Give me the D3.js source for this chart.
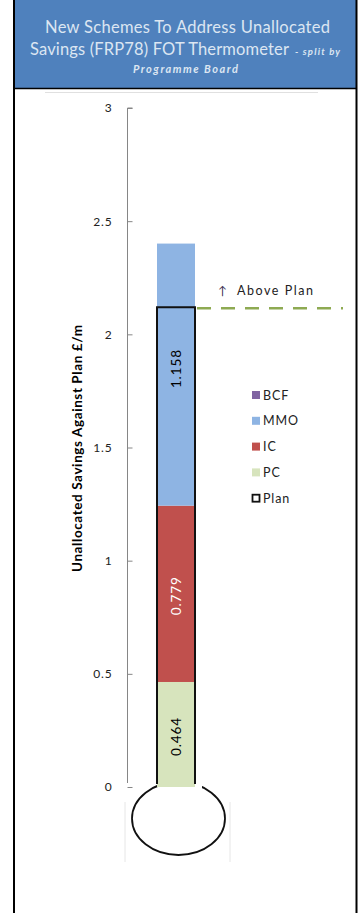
<!DOCTYPE html>
<html>
<head>
<meta charset="utf-8">
<script src="https://cdn.jsdelivr.net/npm/d3@7"></script>
<style>
  html, body { margin: 0; padding: 0; background: #fff; }
  svg { display: block; }
</style>
</head>
<body>
<svg id="chart" width="358" height="913"></svg>
<script>
// Savings split by programme board, stacked bottom-up
const categories = ["PC", "IC", "MMO", "BCF"];
const values = [0.464, 0.779, 1.158, 0];
const colors = ["#D7E4BD", "#C0504D", "#8EB4E3", "#8064A2"];
const labelColors = ["#000", "#fff", "#000", "#000"];
const planValue = 2.12;
const yTicks = [0, 0.5, 1, 1.5, 2, 2.5, 3];
const legendOrder = ["BCF", "MMO", "IC", "PC", "Plan"];
const titleLines = ["New Schemes To Address Unallocated", "Savings (FRP78) FOT Thermometer"];
const titleSuffix = "- split by";
const subTitle = "Programme Board";
const yTitle = "Unallocated Savings Against Plan £/m";
const planArrow = "↑";
const planNote = "Above Plan";

const svg = d3.select("#chart");
const font = "Lato, 'Open Sans', sans-serif";

// frame and header
svg.append("rect").attr("x", 15).attr("y", 0).attr("width", 341).attr("height", 88).attr("fill", "#4F81BD");
svg.append("line").attr("x1", 14).attr("x2", 357).attr("y1", 88.5).attr("y2", 88.5).attr("stroke", "#000").attr("stroke-width", 1.5);
svg.append("line").attr("x1", 14).attr("x2", 14).attr("y1", 0).attr("y2", 913).attr("stroke", "#000").attr("stroke-width", 2);
svg.append("line").attr("x1", 356.5).attr("x2", 356.5).attr("y1", 0).attr("y2", 913).attr("stroke", "#000").attr("stroke-width", 2);
svg.append("line").attr("x1", 45).attr("x2", 318).attr("y1", 92.5).attr("y2", 92.5).attr("stroke", "#e0e0e0").attr("stroke-width", 1);

const tc = "#DCE6F2";
svg.append("text").attr("x", 45).attr("y", 33)
  .attr("font-family", font).attr("font-size", 16.5).attr("fill", tc)
  .attr("textLength", 285).attr("lengthAdjust", "spacing").text(titleLines[0]);
svg.append("text").attr("x", 30).attr("y", 55)
  .attr("font-family", font).attr("font-size", 16.5).attr("fill", tc)
  .attr("textLength", 259).attr("lengthAdjust", "spacing").text(titleLines[1]);
svg.append("text").attr("x", 295).attr("y", 55)
  .attr("font-family", font).attr("font-size", 9.5).attr("font-style", "italic").attr("font-weight", "bold")
  .attr("fill", tc).attr("textLength", 45).attr("lengthAdjust", "spacing").text(titleSuffix);
svg.append("text").attr("x", 133).attr("y", 73)
  .attr("font-family", font).attr("font-size", 11).attr("font-style", "italic").attr("font-weight", "bold")
  .attr("fill", tc).attr("textLength", 105).attr("lengthAdjust", "spacing").text(subTitle);

// scales
const y = d3.scaleLinear().domain([0, 3]).range([787, 108]);
const barX = 157, barW = 38;

// axis with inward ticks
const axis = svg.append("g").attr("transform", "translate(127.5,0)")
  .call(d3.axisRight(y).tickValues(yTicks).tickSize(5).tickFormat(d3.format("")));
axis.select(".domain").attr("stroke", "#868686").attr("d", `M5,${y(3)}H0V${y(0) - 4}`);
axis.selectAll(".tick line").attr("stroke", "#868686");
axis.selectAll(".tick text").attr("x", -15).attr("text-anchor", "end")
  .attr("font-family", font).attr("font-size", 12).attr("letter-spacing", 0.8).attr("fill", "#222");

svg.append("text").attr("transform", `translate(82,572) rotate(-90)`)
  .attr("font-family", font).attr("font-size", 13.5)
  .attr("font-weight", "bold").attr("fill", "#000")
  .attr("textLength", 247).attr("lengthAdjust", "spacing").text(yTitle);

// bulb
const bulb = { cx: 178.5, cy: 818.5, rx: 46.5, ry: 36.5 };
svg.append("line").attr("x1", 125).attr("x2", 125).attr("y1", 802).attr("y2", 862).attr("stroke", "#e6e6e6");
svg.append("line").attr("x1", 230).attr("x2", 230).attr("y1", 802).attr("y2", 862).attr("stroke", "#e6e6e6");
svg.append("ellipse").attr("cx", bulb.cx).attr("cy", bulb.cy).attr("rx", bulb.rx).attr("ry", bulb.ry)
  .attr("fill", "#fff").attr("stroke", "#111").attr("stroke-width", 1.8);
svg.append("rect").attr("x", barX + 1).attr("y", 770).attr("width", 44).attr("height", 19).attr("fill", "#fff");

// stacked segments
let acc = 0;
const stack = values.map((v, i) => { const s = { key: categories[i], y0: acc, y1: acc + v, v, i }; acc += v; return s; });
const shown = stack.filter(d => d.v > 0);
svg.selectAll("rect.seg").data(shown).join("rect").attr("class", "seg")
  .attr("x", barX).attr("width", barW)
  .attr("y", d => y(d.y1)).attr("height", d => y(d.y0) - y(d.y1))
  .attr("fill", d => colors[d.i]);
svg.selectAll("text.val").data(shown).join("text").attr("class", "val")
  .attr("transform", d => `translate(${barX + barW / 2 + 5},${(y(d.y0) + y(d.y1)) / 2 + (d.key === "MMO" ? -6 : 2)}) rotate(-90)`)
  .attr("text-anchor", "middle").attr("font-family", font).attr("font-size", 13.5)
  .attr("letter-spacing", 0.9)
  .attr("fill", d => labelColors[d.i]).text(d => d3.format(".3f")(d.v));

// plan outline
svg.append("path").attr("d", `M${barX},${y(0) - 3}V${y(planValue)}H${barX + barW}V${y(0) - 3}`)
  .attr("fill", "none").attr("stroke", "#111").attr("stroke-width", 2);

// plan marker
svg.append("line").attr("x1", 197).attr("x2", 343).attr("y1", y(planValue) + 1).attr("y2", y(planValue) + 1)
  .attr("stroke", "#8EAA52").attr("stroke-width", 2.5).attr("stroke-dasharray", "14,10");
svg.append("text").attr("x", 218).attr("y", 295).attr("font-family", font).attr("font-size", 12)
  .attr("fill", "#403152").text(planArrow);
svg.append("text").attr("x", 237).attr("y", 295).attr("font-family", font).attr("font-size", 12.5)
  .attr("fill", "#222").attr("textLength", 76).attr("lengthAdjust", "spacing").text(planNote);

// legend
const lg = svg.append("g");
legendOrder.forEach((k, i) => {
  const yy = 395 + i * 25.8;
  const ci = categories.indexOf(k);
  if (k === "Plan") {
    lg.append("rect").attr("x", 252.5).attr("y", yy - 3.5).attr("width", 7).attr("height", 7)
      .attr("fill", "#fff").attr("stroke", "#111").attr("stroke-width", 1.8);
  } else {
    lg.append("rect").attr("x", 252).attr("y", yy - 4).attr("width", 8).attr("height", 8).attr("fill", colors[ci]);
  }
  lg.append("text").attr("x", 263).attr("y", yy + 4.5).attr("font-family", font).attr("font-size", 12.5)
    .attr("letter-spacing", 0.9).attr("fill", "#222").text(k);
});
</script>
</body>
</html>
